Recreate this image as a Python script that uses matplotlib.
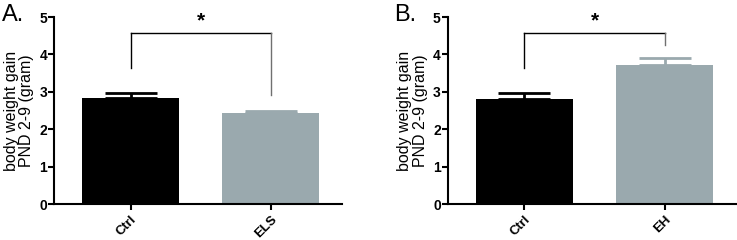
import matplotlib
matplotlib.use('Agg')
import matplotlib.pyplot as plt

# Panel A
groups_a = ['Ctrl', 'ELS']
means_a = [2.84, 2.44]
errs_a = [0.14, 0.06]

# Panel B
groups_b = ['Ctrl', 'EH']
means_b = [2.82, 3.72]
errs_b = [0.16, 0.18]

yticks = [0, 1, 2, 3, 4, 5]
colors = ['#000000', '#9aa9ae']
ylabel = 'body weight gain\nPND 2-9 (gram)'

plt.rcParams['font.family'] = ['Liberation Sans', 'DejaVu Sans']


def bar_panel(ax, groups, means, errs, bracket):
    x = list(range(len(groups)))
    ax.bar(x, means, width=0.69, color=colors)
    for i in x:
        ax.errorbar(i, means[i], yerr=[[0], [errs[i]]], fmt='none',
                    ecolor=colors[i], elinewidth=2, capsize=19, capthick=2)

    # significance bracket
    top, left_end, right_end = bracket
    ax.plot([0, 0], [left_end, top], color='black', lw=1)
    ax.plot([0, 1], [top, top], color='black', lw=1)
    ax.plot([1, 1], [top, right_end], color='#707070', lw=1)
    ax.text(0.5, top + 0.08, '*', ha='center', va='bottom', fontsize=15,
            fontweight='bold')

    ax.set_xlim(-0.546, 1.51)
    ax.set_ylim(0, 5)
    ax.set_yticks(yticks, [str(v) for v in yticks], fontsize=10,
                  fontweight='bold')
    ax.set_xticks(x, groups, rotation=45, ha='right', rotation_mode='anchor',
                  fontsize=9.5, fontweight='bold')
    ax.set_ylabel(ylabel, fontsize=11.5, linespacing=1.05)
    ax.yaxis.set_label_coords(-0.068, 0.5)
    ax.spines['top'].set_visible(False)
    ax.spines['right'].set_visible(False)
    ax.spines['left'].set_linewidth(1.5)
    ax.spines['bottom'].set_linewidth(1.5)
    ax.tick_params(width=1.5, length=4)
    ax.tick_params(axis='x', pad=3)
    ax.tick_params(axis='y', pad=1)


fig = plt.figure(figsize=(7.37, 2.4), dpi=100)
ax1 = fig.add_axes([0.0733, 0.15, 0.391, 0.779])
ax2 = fig.add_axes([0.6075, 0.15, 0.392, 0.779])

bar_panel(ax1, groups_a, means_a, errs_a, (4.56, 3.63, 2.91))
bar_panel(ax2, groups_b, means_b, errs_b, (4.56, 3.63, 4.25))

fig.text(0.002, 0.985, 'A.', fontsize=17, va='top', ha='left')
fig.text(0.535, 0.985, 'B.', fontsize=17, va='top', ha='left')

fig.savefig('out.png', dpi=100)
